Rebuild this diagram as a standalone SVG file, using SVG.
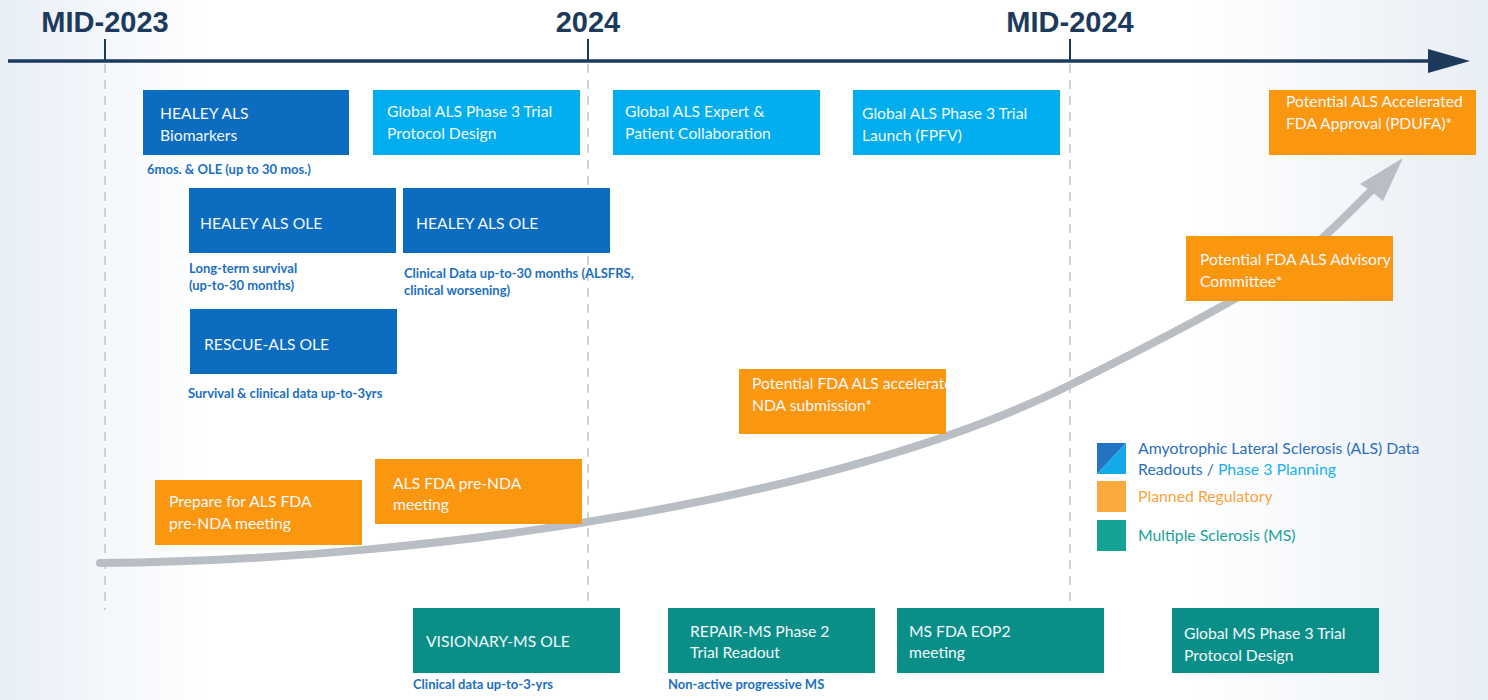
<svg xmlns="http://www.w3.org/2000/svg" width="1488" height="700" viewBox="0 0 1488 700">
<defs>
<linearGradient id="bg" x1="0" y1="0" x2="1" y2="0">
<stop offset="0" stop-color="#e9eff7"/>
<stop offset="0.14" stop-color="#ffffff"/>
<stop offset="0.8" stop-color="#ffffff"/>
<stop offset="1" stop-color="#e8eef5"/>
</linearGradient>
<clipPath id="clipNda"><rect x="739" y="369" width="207" height="65"/></clipPath>
<style>
.yr{font-family:"Liberation Sans",Arial,sans-serif;font-weight:bold;font-size:29px;fill:#1b3a5c;text-anchor:middle}
.axis{stroke:#1b3a5c;stroke-width:3.5;fill:none}
.tick{stroke:#1b3a5c;stroke-width:2}
.dash{stroke:#cfd3d8;stroke-width:2;stroke-dasharray:9 7}
.dk{fill:#0b6cc0}
.lt{fill:#00aeef}
.or{fill:#fb960f}
.tl{fill:#0a8f88}
.bt{font-family:Lato,"Liberation Sans",sans-serif;font-size:15.7px;fill:#f4f8fb}
.cap{font-family:Lato,"Liberation Sans",sans-serif;font-size:13px;font-weight:bold;fill:#1c6fc0}
.lg{font-family:Lato,"Liberation Sans",sans-serif;font-size:15.8px}
</style>
</defs>
<rect x="0" y="0" width="1488" height="700" fill="url(#bg)"/>

<g id="timeline">
<line class="dash" x1="105" y1="64" x2="105" y2="610"/>
<line class="dash" x1="588" y1="64" x2="588" y2="610"/>
<line class="dash" x1="1070" y1="64" x2="1070" y2="610"/>
<line class="axis" x1="8" y1="61" x2="1432" y2="61"/>
<polygon points="1428,49 1470,61 1428,73" fill="#1b3a5c"/>
<line class="tick" x1="105" y1="39" x2="105" y2="61"/>
<line class="tick" x1="588" y1="39" x2="588" y2="61"/>
<line class="tick" x1="1070" y1="39" x2="1070" y2="61"/>
<text class="yr" x="105" y="32">MID-2023</text>
<text class="yr" x="588" y="32">2024</text>
<text class="yr" x="1070" y="32">MID-2024</text>
</g>

<g id="connectors">
<path d="M100,563 C 450,560 850,495 1070,385 S 1300,262 1370,192" fill="none" stroke="#b9bdc4" stroke-width="8" stroke-linecap="round"/>
<polygon points="1403,158 1383,201 1371,191 1360,184" fill="#b9bdc4"/>
</g>

<g id="healey-biomarkers">
<rect class="dk" x="143" y="90" width="206" height="65"/>
<text class="bt" x="160" y="119">HEALEY ALS</text>
<text class="bt" x="160" y="141">Biomarkers</text>
<text class="cap" x="147" y="174">6mos. &amp; OLE (up to 30 mos.)</text>
</g>

<g id="protocol-design">
<rect class="lt" x="373" y="90" width="207" height="65"/>
<text class="bt" x="387" y="117">Global ALS Phase 3 Trial</text>
<text class="bt" x="387" y="139">Protocol Design</text>
</g>

<g id="expert-collab">
<rect class="lt" x="613" y="90" width="207" height="65"/>
<text class="bt" x="625" y="117">Global ALS Expert &amp;</text>
<text class="bt" x="625" y="139">Patient Collaboration</text>
</g>

<g id="trial-launch">
<rect class="lt" x="853" y="90" width="207" height="65"/>
<text class="bt" x="862" y="119">Global ALS Phase 3 Trial</text>
<text class="bt" x="862" y="141">Launch (FPFV)</text>
</g>

<g id="pdufa">
<rect class="or" x="1269" y="90" width="207" height="65"/>
<text class="bt" x="1286" y="107">Potential ALS Accelerated</text>
<text class="bt" x="1286" y="129">FDA Approval (PDUFA)*</text>
</g>

<g id="healey-ole-1">
<rect class="dk" x="189" y="188" width="207" height="65"/>
<text class="bt" x="200" y="229">HEALEY ALS OLE</text>
<text class="cap" x="189" y="273">Long-term survival</text>
<text class="cap" x="189" y="290">(up-to-30 months)</text>
</g>

<g id="healey-ole-2">
<rect class="dk" x="403" y="188" width="207" height="65"/>
<text class="bt" x="416" y="229">HEALEY ALS OLE</text>
<text class="cap" x="404" y="278">Clinical Data up-to-30 months (ALSFRS,</text>
<text class="cap" x="404" y="295">clinical worsening)</text>
</g>

<g id="rescue-ole">
<rect class="dk" x="190" y="309" width="207" height="65"/>
<text class="bt" x="204" y="350">RESCUE-ALS OLE</text>
<text class="cap" x="188" y="398">Survival &amp; clinical data up-to-3yrs</text>
</g>

<g id="advisory">
<rect class="or" x="1186" y="236" width="207" height="65"/>
<text class="bt" x="1200" y="265">Potential FDA ALS Advisory</text>
<text class="bt" x="1200" y="287">Committee*</text>
</g>

<g id="nda-submission">
<rect class="or" x="739" y="369" width="207" height="65"/>
<text class="bt" x="752" y="389" clip-path="url(#clipNda)">Potential FDA ALS accelerated</text>
<text class="bt" x="752" y="411">NDA submission*</text>
</g>

<g id="pre-nda-meeting">
<rect class="or" x="375" y="459" width="207" height="65"/>
<text class="bt" x="393" y="489">ALS FDA pre-NDA</text>
<text class="bt" x="393" y="510">meeting</text>
</g>

<g id="prepare-pre-nda">
<rect class="or" x="155" y="480" width="207" height="65"/>
<text class="bt" x="169" y="507">Prepare for ALS FDA</text>
<text class="bt" x="169" y="529">pre-NDA meeting</text>
</g>

<g id="visionary-ole">
<rect class="tl" x="413" y="608" width="207" height="65"/>
<text class="bt" x="426" y="647">VISIONARY-MS OLE</text>
<text class="cap" x="413" y="689">Clinical data up-to-3-yrs</text>
</g>

<g id="repair-ms">
<rect class="tl" x="668" y="608" width="207" height="65"/>
<text class="bt" x="690" y="637">REPAIR-MS Phase 2</text>
<text class="bt" x="690" y="658">Trial Readout</text>
<text class="cap" x="668" y="689">Non-active progressive MS</text>
</g>

<g id="ms-eop2">
<rect class="tl" x="897" y="608" width="207" height="65"/>
<text class="bt" x="909" y="637">MS FDA EOP2</text>
<text class="bt" x="909" y="658">meeting</text>
</g>

<g id="ms-protocol">
<rect class="tl" x="1172" y="608" width="207" height="65"/>
<text class="bt" x="1184" y="639">Global MS Phase 3 Trial</text>
<text class="bt" x="1184" y="661">Protocol Design</text>
</g>

<g id="legend">
<polygon points="1097,443 1126,443 1097,474" fill="#2372c4"/>
<polygon points="1126,443 1126,474 1097,474" fill="#12aaea"/>
<rect x="1097" y="481" width="29" height="31" fill="#f9a93e"/>
<rect x="1097" y="520" width="29" height="31" fill="#14a396"/>
<text class="lg" x="1138" y="454" fill="#2d6fb8">Amyotrophic Lateral Sclerosis (ALS) Data</text>
<text class="lg" x="1138" y="475" fill="#2d6fb8">Readouts / <tspan fill="#1ab0ec">Phase 3 Planning</tspan></text>
<text class="lg" x="1138" y="502" fill="#f7a33c">Planned Regulatory</text>
<text class="lg" x="1138" y="541" fill="#18a398">Multiple Sclerosis (MS)</text>
</g>
</svg>
